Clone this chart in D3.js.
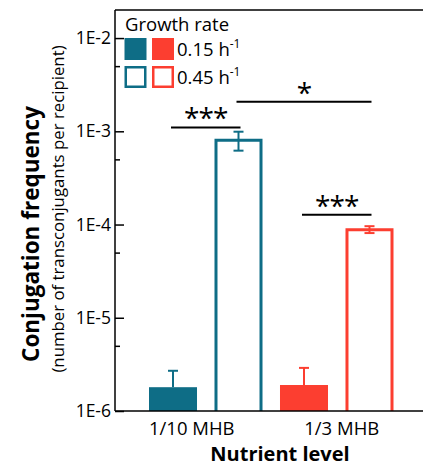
<!DOCTYPE html>
<html><head><meta charset="utf-8">
<script src="https://cdn.jsdelivr.net/npm/d3@7"></script>
<style>body{margin:0;background:#fff}svg{display:block}text{font-family:"Open Sans",sans-serif}</style>
</head><body><svg id="c" width="423" height="466"></svg>
<script>
const categories = ["1/10 MHB", "1/3 MHB"];
const growthRates = ["0.15", "0.45"];
const values015 = [1.8e-6, 1.9e-6];
const upper015 = [2.7e-6, 2.9e-6];
const values045 = [8.0e-4, 8.8e-5];
const lower045 = [6.2e-4, 8.1e-5];
const upper045 = [9.9e-4, 9.6e-5];
const yTickValues = [1e-6, 1e-5, 1e-4, 1e-3, 1e-2];
const yTickLabels = ["1E-6", "1E-5", "1E-4", "1E-3", "1E-2"];
const yMinorValues = [5e-6, 5e-5, 5e-4, 5e-3];
const sigFrom = [0, 2, 1];
const sigTo = [1, 3, 3];
const sigLevel = [1.1e-3, 1.27e-4, 2.07e-3];
const sigLabels = ["***", "***", "*"];

const teal = "#0e6d86", red = "#fc3e30";
const colors = [teal, red];
const svg = d3.select("#c");
const L = 115, T = 10, B = 411, R = 423;

const y = d3.scaleLog().domain([1e-6, 2e-2]).range([B, T]);
const barKeys = [];
categories.forEach((c, i) => growthRates.forEach((g, j) => barKeys.push(c + "|" + g)));
const x = d3.scaleBand().domain(barKeys).range([149, 393.5]).paddingInner(0.267).paddingOuter(0);
const bw = x.bandwidth();
const bars = [];
categories.forEach((c, i) => {
  bars.push({key: c + "|" + growthRates[0], v: values015[i], lo: null, hi: upper015[i], filled: true, color: colors[i]});
  bars.push({key: c + "|" + growthRates[1], v: values045[i], lo: lower045[i], hi: upper045[i], filled: false, color: colors[i]});
});
const cx = k => x(k) + bw / 2;

// frame
svg.append("line").attr("x1", L).attr("x2", R).attr("y1", T).attr("y2", T).attr("stroke", "#000").attr("stroke-width", 1.5);

// bars
bars.forEach(b => {
  if (b.filled) {
    svg.append("rect").attr("x", x(b.key)).attr("y", y(b.v)).attr("width", bw).attr("height", B - y(b.v)).attr("fill", b.color);
  } else {
    svg.append("path").attr("d", `M${x(b.key) + 1.5},${B}V${y(b.v)}H${x(b.key) + bw - 1.5}V${B}`)
      .attr("fill", "none").attr("stroke", b.color).attr("stroke-width", 3);
  }
  const c = cx(b.key);
  const lo = b.lo == null ? b.v : b.lo;
  svg.append("line").attr("x1", c).attr("x2", c).attr("y1", y(lo)).attr("y2", y(b.hi)).attr("stroke", b.color).attr("stroke-width", 2);
  svg.append("line").attr("x1", c - 5).attr("x2", c + 5).attr("y1", y(b.hi)).attr("y2", y(b.hi)).attr("stroke", b.color).attr("stroke-width", 2);
  if (b.lo != null) svg.append("line").attr("x1", c - 5).attr("x2", c + 5).attr("y1", y(b.lo)).attr("y2", y(b.lo)).attr("stroke", b.color).attr("stroke-width", 2);
});

// y axis
const ax = svg.append("g").attr("transform", `translate(${L},0)`)
  .call(d3.axisRight(y).tickValues(yTickValues).tickSize(9).tickFormat(""));
ax.select(".domain").remove();
ax.selectAll("line").attr("stroke-width", 1.5);
const axm = svg.append("g").attr("transform", `translate(${L},0)`)
  .call(d3.axisRight(y).tickValues(yMinorValues).tickSize(5).tickFormat(""));
axm.select(".domain").remove();
axm.selectAll("line").attr("stroke-width", 1.5);
svg.append("line").attr("x1", L).attr("x2", L).attr("y1", T).attr("y2", B).attr("stroke", "#000").attr("stroke-width", 1.5);
svg.append("line").attr("x1", L).attr("x2", R).attr("y1", B).attr("y2", B).attr("stroke", "#000").attr("stroke-width", 1.5);
yTickValues.forEach((v, i) => {
  svg.append("text").attr("x", 111).attr("y", y(v) + 6).attr("text-anchor", "end").attr("font-size", 17.5).text(yTickLabels[i]);
});

// x labels
const labelShift = [-14, 5];
categories.forEach((c, i) => {
  const mid = (x(c + "|" + growthRates[0]) + x(c + "|" + growthRates[1]) + bw) / 2;
  svg.append("text").attr("x", mid + labelShift[i]).attr("y", 435).attr("text-anchor", "middle").attr("font-size", 18.5).text(c);
});
svg.append("text").attr("x", 280).attr("y", 461).attr("text-anchor", "middle").attr("font-size", 20).attr("font-weight", "bold").text("Nutrient level");
svg.append("text").attr("transform", "translate(39,234) rotate(-90)").attr("text-anchor", "middle").attr("font-size", 22.5).attr("font-weight", "bold").text("Conjugation frequency");
svg.append("text").attr("transform", "translate(63.5,209) rotate(-90)").attr("text-anchor", "middle").attr("font-size", 16.8).text("(number of transconjugants per recipient)");

// significance
sigLabels.forEach((s, i) => {
  const x1 = cx(barKeys[sigFrom[i]]) - 2, x2 = cx(barKeys[sigTo[i]]) + 2, yy = y(sigLevel[i]);
  svg.append("line").attr("x1", x1).attr("x2", x2).attr("y1", yy).attr("y2", yy).attr("stroke", "#000").attr("stroke-width", 2);
  svg.append("text").attr("x", (x1 + x2) / 2).attr("y", yy + 1).attr("text-anchor", "middle").attr("font-size", 28).attr("letter-spacing", -1).text(s);
});

// legend
svg.append("text").attr("x", 125).attr("y", 31).attr("font-size", 18.5).text("Growth rate");
growthRates.forEach((g, r) => {
  const yy = 38 + r * 28;
  colors.forEach((col, k) => {
    const xx = 124.5 + k * 27.5;
    if (r === 0) svg.append("rect").attr("x", xx).attr("y", yy).attr("width", 22).attr("height", 22).attr("fill", col);
    else svg.append("rect").attr("x", xx + 1.25).attr("y", yy + 1.25).attr("width", 19.5).attr("height", 19.5).attr("fill", "none").attr("stroke", col).attr("stroke-width", 2.5);
  });
  const t = svg.append("text").attr("x", 177).attr("y", yy + 18).attr("font-size", 18.5);
  t.append("tspan").text(g + " h");
  t.append("tspan").attr("dy", -8).attr("font-size", 12).text("-1");
});
</script></body></html>
